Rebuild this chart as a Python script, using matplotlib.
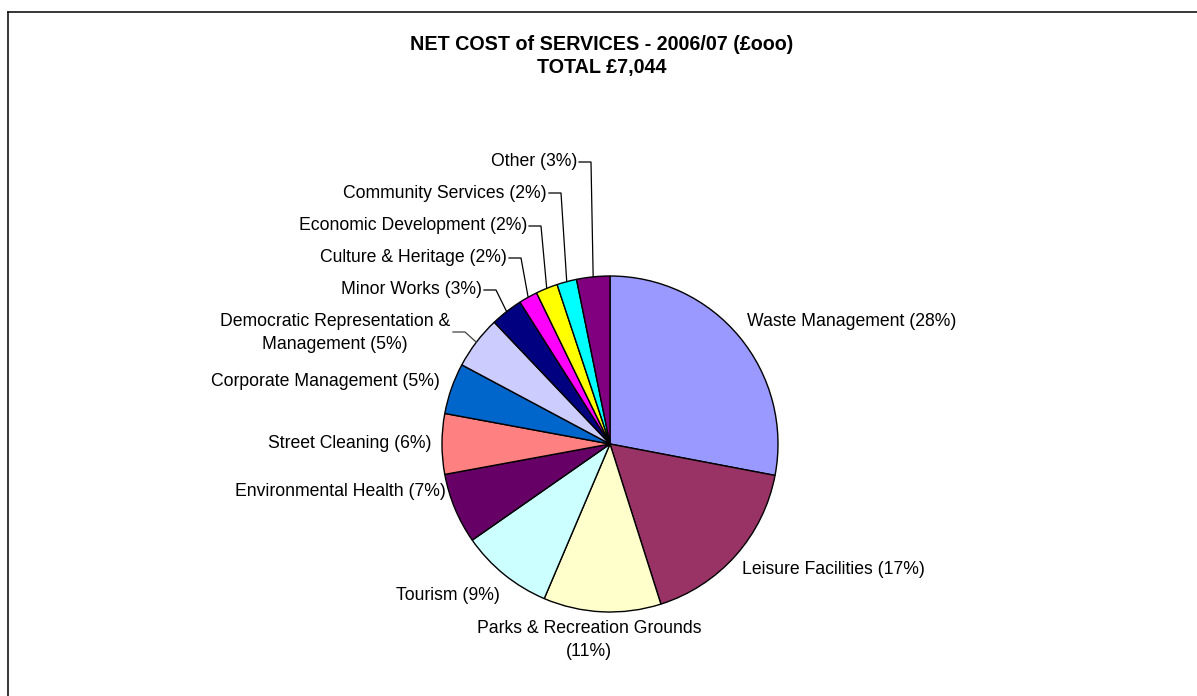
import numpy as np
import matplotlib
matplotlib.use("Agg")
import matplotlib.pyplot as plt

plt.rcParams['font.family'] = ['Liberation Sans', 'DejaVu Sans']

# ---- data (£000) ----
categories = [
    "Waste Management", "Leisure Facilities", "Parks & Recreation Grounds",
    "Tourism", "Environmental Health", "Street Cleaning", "Corporate Management",
    "Democratic Representation &\nManagement", "Minor Works", "Culture & Heritage",
    "Economic Development", "Community Services", "Other",
]
values = [1972, 1205, 796, 627, 479, 409, 345, 359, 218, 127, 148, 134, 225]
colors = ["#9999FF", "#993366", "#FFFFCC", "#CCFFFF", "#660066", "#FF8080",
          "#0066CC", "#CCCCFF", "#000080", "#FF00FF", "#FFFF00", "#00FFFF", "#800080"]
title_lines = ["NET COST of SERVICES - 2006/07 (£ooo)", "TOTAL £7,044"]

# ---- layout (pixel coordinates, y from top) ----
W, H = 1197, 696
cx, cy, R = 610, 444, 168
# (x, y, ha, leader)
label_layout = [
    (747, 322, 'left', False),
    (742, 569, 'left', False),
    (589, 640, 'center', False),
    (500, 596, 'right', False),
    (446, 492, 'right', False),
    (431, 443, 'right', False),
    (440, 381, 'right', False),
    (335, 333, 'center', True),
    (482, 290, 'right', True),
    (507, 258, 'right', True),
    (527, 226, 'right', True),
    (547, 193, 'right', True),
    (577, 162, 'right', True),
]

fig = plt.figure(figsize=(W / 100, H / 100), dpi=100)
ax = fig.add_axes([0, 0, 1, 1])
ax.set_axis_off()

wedges, _ = ax.pie(values, colors=colors, startangle=90, counterclock=False,
                   center=(cx, H - cy), radius=R,
                   wedgeprops=dict(edgecolor='black', linewidth=1.0))
ax.set_xlim(0, W)
ax.set_ylim(0, H)
ax.set_aspect('equal', adjustable='box')

total = sum(values)
fs = 12.7
for w, name, v, (lx, ly, ha, leader) in zip(wedges, categories, values, label_layout):
    pct = 100.0 * v / total
    text = f"{name} ({pct:.0f}%)"
    if name.startswith("Parks"):
        text = f"{name}\n({pct:.0f}%)"
    ax.text(lx, H - ly, text, ha=ha, va='center', fontsize=fs, color='black',
            multialignment='center', linespacing=1.4)
    if leader:
        mid = np.deg2rad((w.theta1 + w.theta2) / 2.0)
        px = cx + R * np.cos(mid)
        py = (H - cy) + R * np.sin(mid)
        if ha == 'center':
            x0 = 453
            yline = H - 332
        else:
            x0 = lx + 2
            yline = H - ly
        ax.plot([x0, x0 + 12, px], [yline, yline, py],
                color='#404040' if ha == 'center' else 'black', lw=0.9)

ax.text(602, H - 44, title_lines[0], ha='center', va='center', fontsize=14.2,
        fontweight='bold')
ax.text(602, H - 67, title_lines[1], ha='center', va='center', fontsize=14.2,
        fontweight='bold')

# border (top and left lines)
ax.plot([8, W], [H - 12, H - 12], color='black', lw=1.1, clip_on=False)
ax.plot([8, 8], [H - 12, 0], color='black', lw=1.1, clip_on=False)

fig.savefig("out.png", dpi=100, facecolor='white')
